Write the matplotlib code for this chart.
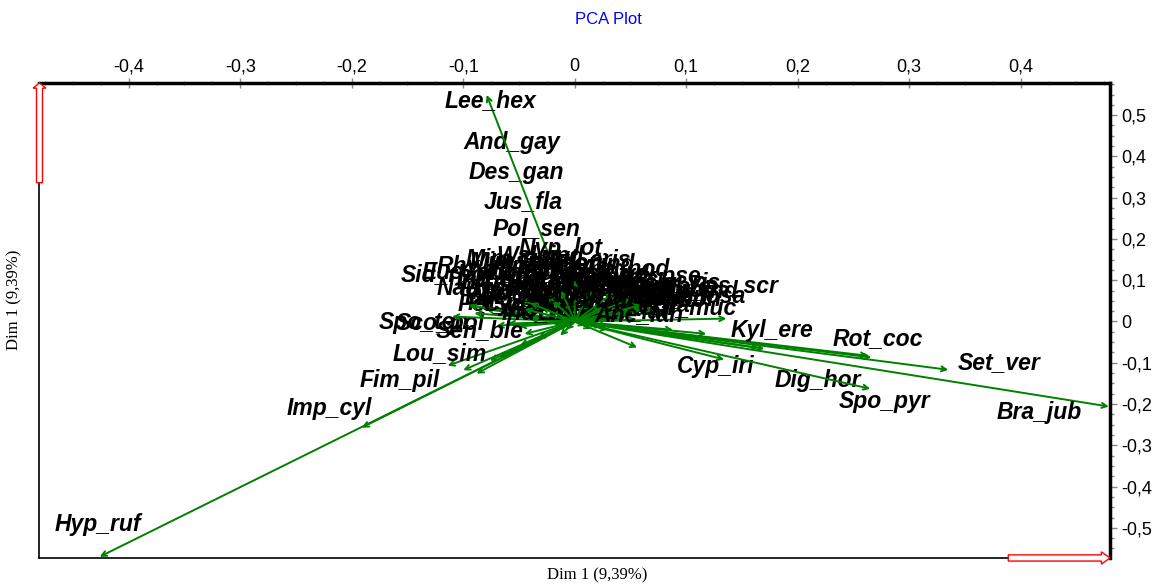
import matplotlib
matplotlib.use('Agg')
import matplotlib.pyplot as plt
from matplotlib.ticker import MultipleLocator, FuncFormatter
from matplotlib.patches import FancyArrow

# species vectors (tips) and where their labels were put
species = ['Sco_pol', 'Spo_ten', 'Sen_ble', 'Lou_sim', 'Fim_pil', 'Imp_cyl', 'Hyp_ruf',
           'And_gay', 'Des_gan', 'Jus_fla', 'Pol_sen', 'Lee_hex', 'Nyp_lot',
           'Sid_rho', 'Eus_pro', 'Rhy_mus', 'Nau_dio', 'Mim_ana', 'Pas_not', 'Per_pal',
           'Mim_pud', 'Mic_lon', 'Ele_ind', 'Cen_asi', 'Com_ben', 'Dic_cil', 'Era_tre',
           'Ipo_era', 'Lud_hys', 'Mit_vil', 'Oxa_cor', 'Phy_ama', 'Por_ole', 'Sid_acu',
           'Spe_ver', 'Tri_pro', 'Ver_cin', 'Ami_kin', 'Bid_pil', 'Cas_obt', 'Cro_bon',
           'Cyp_esc', 'Des_tri', 'Eup_hir', 'Hyb_fla', 'Ind_hir', 'Lin_cru', 'Mel_aris',
           'Pan_lax', 'Wal_ind',
           'Ale_nod', 'And_pse', 'Cle_vis', 'Elu_ind', 'Hyp_sua', 'Sty_vis', 'Set_pal',
           'Ind_spi', 'Cha_rot', 'Kyl_squ', 'Rhy_ren', 'Sch_pac', 'Sor_ara', 'Tep_bra',
           'Zor_lat', 'Bor_ver',
           'Aca_hir', 'Bul_bar', 'Cte_ele', 'Era_ate', 'Lep_cae', 'Mon_com', 'Pan_ana',
           'Tep_pur', 'Vig_rac',
           'Pas_scr', 'Ele_pilosa', 'Cor_muc', 'Ane_lan', 'Kyl_ere', 'Cyp_iri', 'Dig_hor',
           'Rot_coc', 'Set_ver', 'Spo_pyr', 'Bra_jub']
tip_x = [-0.060, -0.070, -0.050, -0.114, -0.088, -0.191, -0.426,
         -0.020, -0.015, -0.010, -0.008, -0.079, 0.000,
         -0.110, -0.080, -0.060, -0.090, -0.040, -0.030, -0.095,
         -0.076, -0.067, -0.049, -0.033, -0.013, 0.056, 0.088,
         0.165, 0.263, -0.100, -0.095, 0.010, -0.020, 0.030,
         -0.045, 0.040, 0.020, -0.030, 0.010, 0.050, 0.070,
         -0.060, 0.000, 0.025, -0.008, -0.040, 0.015, 0.010,
         0.030, -0.020,
         0.020, 0.040, 0.060, 0.070, -0.030, 0.005, 0.035,
         0.012, 0.045, 0.080, -0.050, -0.015, 0.022, 0.055,
         -0.005, -0.045,
         0.015, 0.035, -0.025, 0.050, 0.000, -0.040, 0.025,
         0.060, -0.012,
         0.060, 0.050, 0.136, 0.030, 0.118, 0.134, 0.170,
         0.266, 0.335, 0.265, 0.479]
tip_y = [-0.005, -0.010, -0.012, -0.107, -0.126, -0.257, -0.570,
         0.090, 0.080, 0.070, 0.060, 0.549, 0.050,
         0.012, 0.030, 0.040, 0.020, 0.060, 0.035, 0.039,
         -0.095, -0.087, -0.058, -0.041, -0.034, -0.063, -0.020,
         -0.064, -0.083, -0.118, 0.039, -0.010, -0.005, -0.020,
         -0.030, 0.010, 0.030, 0.040, 0.050, 0.020, 0.030,
         0.020, 0.020, -0.012, -0.020, 0.005, -0.018, 0.060,
         0.040, 0.050,
         0.070, 0.060, 0.050, 0.040, 0.080, 0.090, 0.030,
         0.045, 0.015, 0.025, 0.055, 0.070, -0.008, 0.005,
         0.010, 0.030,
         0.080, 0.070, 0.065, 0.055, 0.100, 0.045, 0.035,
         0.040, 0.075,
         0.030, 0.025, 0.007, 0.005, -0.030, -0.092, -0.066,
         -0.087, -0.117, -0.163, -0.206]
lab_x = [-0.121, -0.135, -0.085, -0.121, -0.157, -0.220, -0.428,
         -0.056, -0.052, -0.046, -0.034, -0.076, -0.013,
         -0.118, -0.096, -0.078, -0.083, -0.054, -0.056, -0.068,
         -0.049, -0.013, 0.018, -0.063, -0.031, 0.000, 0.031,
         -0.049, -0.013, 0.022, 0.054, -0.058, -0.022, 0.013,
         0.049, 0.081, -0.049, -0.013, 0.022, 0.058, 0.090,
         -0.040, -0.004, 0.031, 0.067, -0.031, 0.004, 0.010,
         0.035, -0.031,
         0.045, 0.070, 0.095, 0.110, -0.040, -0.005, 0.060,
         -0.070, -0.035, 0.000, 0.040, 0.075, -0.020, 0.020,
         0.050, -0.060,
         0.015, 0.040, -0.025, 0.085, 0.005, -0.045, 0.030,
         0.065, -0.015]
lab_x += [0.143, 0.103, 0.101, 0.058, 0.177, 0.126, 0.218,
          0.272, 0.381, 0.278, 0.417]
lab_y = [-0.005, -0.003, -0.022, -0.078, -0.143, -0.211, -0.493,
         0.434, 0.362, 0.291, 0.226, 0.536, 0.177,
         0.114, 0.119, 0.133, 0.083, 0.153, 0.046, 0.040,
         0.143, 0.143, 0.140, 0.119, 0.119, 0.119, 0.115,
         0.100, 0.100, 0.100, 0.095, 0.080, 0.080, 0.080,
         0.078, 0.075, 0.061, 0.061, 0.061, 0.058, 0.055,
         0.041, 0.041, 0.041, 0.038, 0.022, 0.022, 0.150,
         0.110, 0.160,
         0.128, 0.110, 0.095, 0.075, 0.130, 0.132, 0.080,
         0.100, 0.090, 0.060, 0.065, 0.050, 0.030, 0.030,
         0.025, 0.060,
         0.108, 0.088, 0.108, 0.085, 0.090, 0.072, 0.050,
         0.068, 0.070]
lab_y += [0.087, 0.061, 0.034, 0.017, -0.022, -0.109, -0.143,
          -0.041, -0.100, -0.194, -0.221]

green = '#008000'

fig = plt.figure(figsize=(11.58, 5.85), dpi=100)
ax = fig.add_axes([0.0341, 0.0462, 0.9244, 0.8120])

for name, tx, ty, lx, ly in zip(species, tip_x, tip_y, lab_x, lab_y):
    ax.annotate('', xy=(tx, ty), xytext=(0, 0), zorder=3,
                arrowprops=dict(arrowstyle='->', color=green, lw=1.4,
                                shrinkA=0, shrinkB=0, mutation_scale=9))
    ax.text(lx, ly, name, ha='center', va='center', fontsize=16.5,
            family='Liberation Sans', weight='bold', style='italic', zorder=3)

ax.set_xlim(-0.48, 0.48)
ax.set_ylim(-0.573, 0.578)

fmt = FuncFormatter(lambda v, p: '0' if abs(v) < 1e-9 else f'{v:.1f}'.replace('.', ','))
ax.xaxis.tick_top()
ax.yaxis.tick_right()
ax.set_xticks([-0.4, -0.3, -0.2, -0.1, 0, 0.1, 0.2, 0.3, 0.4])
ax.set_yticks([-0.5, -0.4, -0.3, -0.2, -0.1, 0, 0.1, 0.2, 0.3, 0.4, 0.5])
ax.xaxis.set_major_formatter(fmt)
ax.yaxis.set_major_formatter(fmt)
ax.xaxis.set_minor_locator(MultipleLocator(0.025))
ax.yaxis.set_minor_locator(MultipleLocator(0.025))
ax.tick_params(axis='x', which='major', direction='inout', length=7, width=1,
               color='#888888', labelsize=13, pad=2)
ax.tick_params(axis='x', which='minor', direction='inout', length=3, width=1, color='#888888')
ax.tick_params(axis='y', which='major', direction='out', length=5, width=1,
               color='#888888', labelsize=13, pad=3)
ax.tick_params(axis='y', which='minor', direction='out', length=3, width=1, color='#888888')
for lab in ax.get_xticklabels() + ax.get_yticklabels():
    lab.set_family('Liberation Sans')

ax.spines['top'].set_linewidth(2.5)
ax.spines['right'].set_linewidth(2.5)
ax.spines['left'].set_linewidth(1.2)
ax.spines['bottom'].set_linewidth(1.2)

# red axis direction arrows
ax.add_patch(FancyArrow(0, 0.79, 0, 0.21, width=0.0056, head_width=0.012, head_length=0.011,
                        length_includes_head=True, transform=ax.transAxes,
                        fc='white', ec='red', lw=1, clip_on=False, zorder=5))
ax.add_patch(FancyArrow(0.905, 0, 0.095, 0, width=0.013, head_width=0.026, head_length=0.008,
                        length_includes_head=True, transform=ax.transAxes,
                        fc='white', ec='red', lw=1, clip_on=False, zorder=5))

fig.text(608 / 1158, 1 - 20 / 585, 'PCA Plot', ha='center', va='center',
         color='#0000FF', fontsize=12, family='Liberation Sans')
fig.text(597 / 1158, 1 - 575 / 585, 'Dim 1 (9,39%)', ha='center', va='center',
         fontsize=12, family='Liberation Serif')
fig.text(14 / 1158, 1 - 300 / 585, 'Dim 1 (9,39%)', ha='center', va='center',
         rotation=90, fontsize=12, family='Liberation Serif')

fig.savefig('out.png', dpi=100)
